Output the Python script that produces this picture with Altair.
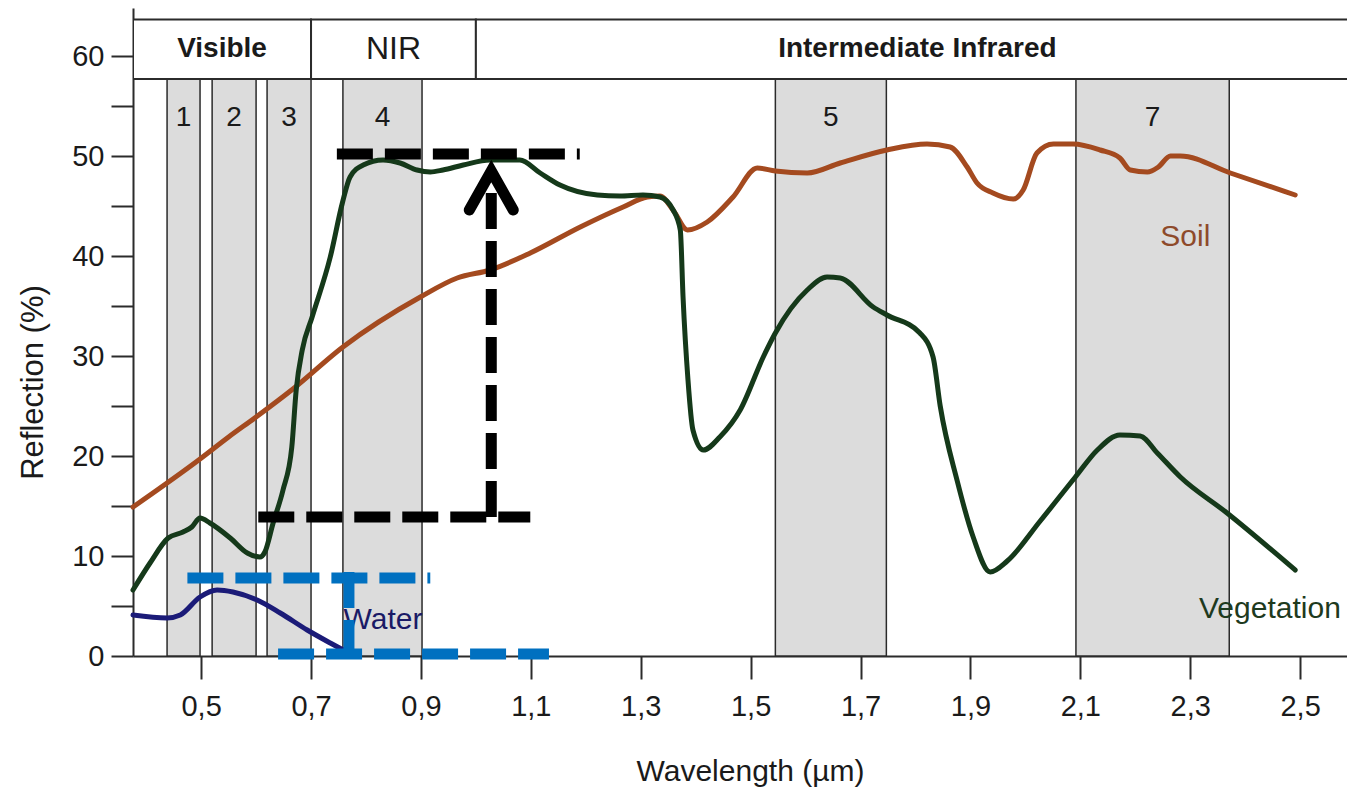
import altair as alt
import pandas as pd

# ---------------- data ----------------
soil_x = [0.376, 0.498, 0.55, 0.60, 0.667, 0.758, 0.899, 0.966, 1.026, 1.099, 1.190, 1.268,
          1.312, 1.335, 1.36, 1.385, 1.421, 1.468, 1.512, 1.545, 1.603, 1.663, 1.748, 1.821,
          1.863, 1.894, 1.912, 1.941, 1.978, 1.996, 2.021, 2.051, 2.087, 2.136, 2.172, 2.191,
          2.222, 2.242, 2.264, 2.282, 2.373, 2.491]
soil_y = [14.9, 19.7, 21.9, 23.9, 26.7, 30.9, 35.9, 37.8, 38.6, 40.3, 42.9, 44.9,
          45.9, 46.0, 44.5, 42.6, 43.4, 45.9, 48.8, 48.5, 48.3, 49.3, 50.6, 51.2,
          50.9, 48.9, 47.3, 46.3, 45.7, 46.6, 50.3, 51.2, 51.2, 50.6, 49.8, 48.6,
          48.4, 48.9, 50.0, 50.0, 48.3, 46.1]

veg_x = [0.376, 0.407, 0.440, 0.467, 0.483, 0.498, 0.516, 0.553, 0.584, 0.607, 0.616, 0.631,
         0.649, 0.665, 0.673, 0.684, 0.702, 0.735, 0.757, 0.771, 0.795, 0.831, 0.862, 0.893,
         0.917, 0.940, 0.977, 1.026, 1.080, 1.117, 1.153, 1.221, 1.262, 1.304, 1.335, 1.359,
         1.372, 1.377, 1.386, 1.395, 1.414, 1.444, 1.481, 1.523, 1.545, 1.603, 1.639, 1.663,
         1.723, 1.748, 1.808, 1.832, 1.845, 1.876, 1.905, 1.936, 1.967, 2.027, 2.091, 2.131,
         2.172, 2.209, 2.240, 2.282, 2.367, 2.491]
veg_y = [6.6, 9.3, 11.8, 12.4, 12.9, 13.8, 13.3, 11.8, 10.3, 9.9, 10.4, 13.3,
         16.6, 20.9, 26.6, 30.6, 33.9, 39.9, 45.3, 47.9, 49.1, 49.6, 49.3, 48.6,
         48.4, 48.6, 49.1, 49.6, 49.6, 48.3, 47.1, 46.1, 46.0, 46.1, 45.9, 44.6,
         42.6, 35.9, 27.6, 22.6, 20.6, 21.9, 24.6, 29.9, 32.3, 36.6, 37.9, 37.8,
         34.9, 34.1, 32.3, 29.9, 25.0, 17.5, 11.9, 8.4, 9.5, 13.5, 17.9, 20.6,
         22.1, 22.0, 20.3, 17.9, 14.3, 8.6]

water_x = [0.376, 0.438, 0.462, 0.498, 0.529, 0.558, 0.602, 0.644, 0.693, 0.735, 0.762]
water_y = [4.1, 3.8, 4.1, 5.9, 6.6, 6.4, 5.6, 4.3, 2.6, 1.3, 0.5]

band_names = ["1", "2", "3", "4", "5", "7"]
band_start = [0.438, 0.520, 0.620, 0.758, 1.545, 2.092]
band_end = [0.498, 0.600, 0.700, 0.902, 1.747, 2.371]

region_names = ["Visible", "NIR", "Intermediate Infrared"]
region_start = [0.376, 0.70, 1.00]
region_end = [0.70, 1.00, 2.607]
region_bold = [True, False, True]

x_ticks = [0.5, 0.7, 0.9, 1.1, 1.3, 1.5, 1.7, 1.9, 2.1, 2.3, 2.5]
y_ticks = [0, 5, 10, 15, 20, 25, 30, 35, 40, 45, 50, 55, 60]

HEADER_LO, HEADER_HI = 57.7, 63.65
BAND_LABEL_Y = 53.8

# ---------------- chart ----------------
FONT = "Liberation Sans"
TXT = "#1a1a1a"
LINE = "#2b2b2b"
SOIL = "#a44a1f"
VEG = "#15391a"
WATER = "#1b1b78"
BLUE = "#0070c0"

xs = alt.Scale(domain=[0.376, 2.5853], nice=False, zero=False)
ys = alt.Scale(domain=[0, 64.8], nice=False, zero=False)

x_axis = alt.Axis(values=x_ticks, labelExpr="replace(format(datum.value, '.1f'), '.', ',')",
                  title="Wavelength (µm)", grid=False, tickSize=23, tickWidth=2,
                  tickColor=LINE, domainColor=LINE, domainWidth=2,
                  labelFont=FONT, labelFontSize=29, labelColor=TXT, labelPadding=13,
                  labelFlush=False, labelOverlap=False,
                  titleFont=FONT, titleFontSize=30, titleFontWeight="normal", titleColor=TXT,
                  titleX=617, titleY=124, titleAlign="center", titleBaseline="alphabetic")
y_axis = alt.Axis(values=y_ticks, labelExpr="datum.value % 10 == 0 ? datum.label : ''",
                  title="Reflection (%)", grid=False, tickSize=22, tickWidth=2,
                  tickColor=LINE, domainColor=LINE, domainWidth=2,
                  labelFont=FONT, labelFontSize=29, labelColor=TXT, labelPadding=7,
                  labelFlush=False, labelOverlap=False,
                  titleFont=FONT, titleFontSize=31, titleFontWeight="normal", titleColor=TXT,
                  titleX=-100, titleY=374, titleAngle=270, titleAlign="center",
                  titleBaseline="middle")


def X(field):
    return alt.X(field, scale=xs, axis=x_axis)


def Y(field):
    return alt.Y(field, scale=ys, axis=y_axis)


band_df = pd.DataFrame({"band": band_names, "start": band_start, "end": band_end})
band_df["mid"] = (band_df["start"] + band_df["end"]) / 2
band_df["lo"] = 0.0
band_df["hi"] = HEADER_LO
band_df["ly"] = BAND_LABEL_Y

region_df = pd.DataFrame({"region": region_names, "start": region_start,
                          "end": region_end, "bold": region_bold})
region_df["mid"] = (region_df["start"] + region_df["end"]) / 2
region_df["lo"] = HEADER_LO
region_df["hi"] = HEADER_HI
region_df["my"] = (HEADER_LO + HEADER_HI) / 2

bands = alt.Chart(band_df).mark_rect(fill="#dcdcdc", stroke=LINE, strokeWidth=1.5).encode(
    x=X("start:Q"), x2="end:Q", y=Y("lo:Q"), y2="hi:Q")

band_text = alt.Chart(band_df).mark_text(font=FONT, fontSize=28, color=TXT).encode(
    x=X("mid:Q"), y=Y("ly:Q"), text="band:N")

header = alt.Chart(region_df).mark_rect(fill="white", stroke=LINE, strokeWidth=2, clip=True).encode(
    x=X("start:Q"), x2="end:Q", y=Y("lo:Q"), y2="hi:Q")

header_bold = alt.Chart(region_df).transform_filter("datum.bold").mark_text(
    font=FONT, fontSize=28, fontWeight="bold", color=TXT).encode(
    x=X("mid:Q"), y=Y("my:Q"), text="region:N")
header_norm = alt.Chart(region_df).transform_filter("!datum.bold").mark_text(
    font=FONT, fontSize=32, color=TXT).encode(
    x=X("mid:Q"), y=Y("my:Q"), text="region:N")


def curve(xv, yv, color):
    df = pd.DataFrame({"x": xv, "y": yv})
    return alt.Chart(df).mark_line(color=color, strokeWidth=5, interpolate="monotone",
                                   strokeCap="round").encode(x=X("x:Q"), y=Y("y:Q"))


soil = curve(soil_x, soil_y, SOIL)
veg = curve(veg_x, veg_y, VEG)
water = curve(water_x, water_y, WATER)


def label(text, x, y, color):
    df = pd.DataFrame({"t": [text], "x": [x], "y": [y]})
    return alt.Chart(df).mark_text(font=FONT, fontSize=30, color=color).encode(
        x=X("x:Q"), y=Y("y:Q"), text="t:N")


lab_soil = label("Soil", 2.291, 41.9, "#8e4a2a")
lab_veg = label("Vegetation", 2.445, 4.7, "#1e3a1e")
lab_water = label("Water", 0.831, 3.6, "#1a1a66")


def dash(x1, x2, y1, y2, color):
    df = pd.DataFrame({"x1": [x1], "x2": [x2], "y1": [y1], "y2": [y2]})
    return alt.Chart(df).mark_rule(color=color, strokeWidth=11, strokeDash=[36, 12]).encode(
        x=X("x1:Q"), x2="x2:Q", y=Y("y1:Q"), y2="y2:Q")


d1 = dash(0.747, 1.189, 50.2, 50.2, "black")
d2 = dash(1.028, 1.028, 46.3, 13.9, "black")
d3 = dash(0.604, 1.099, 13.9, 13.9, "black")
b1 = dash(0.475, 0.917, 7.8, 7.8, BLUE)
b2 = dash(0.769, 0.769, 8.4, 0.3, BLUE)
b3 = dash(0.640, 1.133, 0.2, 0.2, BLUE)

arrow_df = pd.DataFrame({"x": [0.988, 1.028, 1.068], "y": [44.6, 48.5, 44.6], "o": [0, 1, 2]})
arrow = alt.Chart(arrow_df).mark_line(color="black", strokeWidth=11, strokeCap="round",
                                      strokeJoin="miter").encode(
    x=X("x:Q"), y=Y("y:Q"), order="o:Q")

chart = alt.layer(
    bands, band_text, header, header_bold, header_norm,
    soil, veg, water, lab_soil, lab_veg, lab_water,
    d1, d2, d3, arrow, b1, b2, b3
).properties(
    width=1214, height=648,
    padding={"left": 125, "top": 0, "right": 0, "bottom": 131},
    autosize=alt.AutoSizeParams(type="none"),
    background="white",
).configure_view(stroke=None)

chart.save("out.html", embed_options={"renderer": "svg", "actions": False})
